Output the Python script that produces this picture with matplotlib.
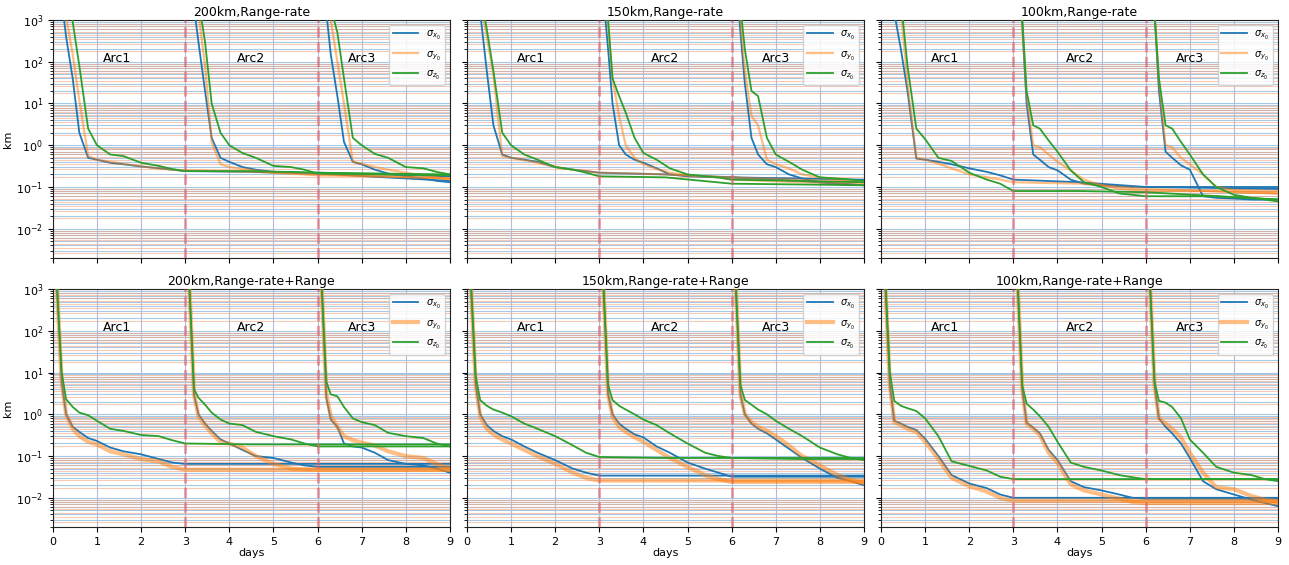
import numpy as np
import matplotlib
matplotlib.use('Agg')
import matplotlib.pyplot as plt

# relative time (days) inside each 3-day arc, and the days after the arc
rel_t = [0, 0.1, 0.2, 0.3, 0.45, 0.6, 0.8, 1.0, 1.3, 1.6, 2.0, 2.4, 2.7, 3.0]
tail_days = [[4.5, 6.0, 9.0], [7.5, 9.0], []]
arc_start = [0, 3, 6]

titles = ['200km,Range-rate', '150km,Range-rate', '100km,Range-rate',
          '200km,Range-rate+Range', '150km,Range-rate+Range', '100km,Range-rate+Range']
arc_names = ['Arc1', 'Arc2', 'Arc3']
arc_text_x = [1.45, 4.5, 7.0]
labels = [r'$\sigma_{x_0}$', r'$\sigma_{y_0}$', r'$\sigma_{z_0}$']

# ---- 200km, range-rate (km) ----
rr200_x = [[1e6, 1e5, 3e3, 400, 40, 2.0, 0.5, 0.45, 0.38, 0.35, 0.31, 0.28, 0.26, 0.24, 0.23, 0.21, 0.14],
           [1e6, 1e5, 2e3, 300, 20, 1.5, 0.5, 0.4, 0.3, 0.26, 0.23, 0.23, 0.22, 0.22, 0.2, 0.18],
           [1e6, 1e5, 1.5e3, 150, 15, 1.2, 0.4, 0.35, 0.26, 0.21, 0.18, 0.16, 0.14, 0.13]]
rr200_y = [[1e6, 1e5, 1e4, 1.2e3, 150, 12, 0.55, 0.45, 0.4, 0.36, 0.31, 0.28, 0.26, 0.25, 0.23, 0.2, 0.16],
           [1e6, 1e5, 1e4, 1.5e3, 80, 1.2, 0.35, 0.3, 0.27, 0.25, 0.22, 0.21, 0.2, 0.19, 0.18, 0.16],
           [1e6, 1e5, 1e4, 1e3, 100, 10, 0.4, 0.36, 0.3, 0.26, 0.22, 0.19, 0.17, 0.15]]
rr200_z = [[1e6, 1e5, 1e4, 5e3, 900, 80, 2.5, 1.0, 0.6, 0.55, 0.38, 0.32, 0.27, 0.24, 0.24, 0.22, 0.2],
           [1e6, 1e5, 1e4, 3e3, 300, 10, 2.0, 1.0, 0.65, 0.5, 0.32, 0.3, 0.26, 0.21, 0.2, 0.19],
           [1e6, 1e5, 1e4, 2e3, 500, 40, 1.5, 1.0, 0.62, 0.5, 0.3, 0.28, 0.23, 0.2]]

# ---- 150km, range-rate ----
rr150_x = [[1e6, 1e5, 1e4, 1.5e3, 60, 3, 0.6, 0.5, 0.45, 0.4, 0.3, 0.26, 0.24, 0.22, 0.2, 0.17, 0.15],
           [1e5, 3e3, 200, 10, 1.0, 0.6, 0.45, 0.38, 0.28, 0.2, 0.18, 0.175, 0.17, 0.17, 0.14, 0.11],
           [1e5, 1e4, 500, 30, 1.5, 0.6, 0.35, 0.3, 0.2, 0.16, 0.13, 0.12, 0.115, 0.11]]
rr150_y = [[1e6, 1e5, 1e4, 3e3, 400, 50, 0.55, 0.5, 0.44, 0.38, 0.3, 0.26, 0.24, 0.22, 0.2, 0.17, 0.13],
           [1e5, 1e4, 800, 40, 5, 1.0, 0.5, 0.35, 0.27, 0.22, 0.19, 0.18, 0.17, 0.15, 0.13, 0.12],
           [1e5, 1e4, 1e3, 60, 5, 3, 0.45, 0.35, 0.28, 0.2, 0.17, 0.15, 0.14, 0.13]]
rr150_z = [[1e6, 1e5, 1e4, 5e3, 600, 60, 2.0, 1.0, 0.6, 0.45, 0.3, 0.26, 0.22, 0.18, 0.17, 0.12, 0.11],
           [1e5, 1e4, 1e3, 40, 15, 6, 1.5, 0.65, 0.45, 0.28, 0.2, 0.18, 0.17, 0.15, 0.14, 0.13],
           [1e5, 1e4, 2e3, 200, 20, 15, 1.5, 0.6, 0.4, 0.26, 0.17, 0.16, 0.15, 0.14]]

# ---- 100km, range-rate ----
rr100_x = [[1e6, 1e5, 1e4, 1.5e3, 200, 20, 0.48, 0.45, 0.4, 0.35, 0.28, 0.23, 0.19, 0.15, 0.13, 0.1, 0.09],
           [1e5, 1e4, 800, 10, 0.6, 0.45, 0.3, 0.25, 0.15, 0.12, 0.11, 0.105, 0.1, 0.1, 0.1, 0.1],
           [1e5, 1e4, 1.5e3, 20, 0.7, 0.5, 0.33, 0.26, 0.06, 0.055, 0.053, 0.05, 0.05, 0.05]]
rr100_y = [[1e6, 1e5, 1e4, 5e3, 2e3, 30, 0.5, 0.45, 0.36, 0.28, 0.2, 0.17, 0.15, 0.13, 0.12, 0.09, 0.07],
           [1e5, 1e4, 800, 15, 1.0, 0.9, 0.6, 0.4, 0.25, 0.15, 0.11, 0.09, 0.085, 0.08, 0.08, 0.07],
           [1e5, 1e4, 1.5e3, 30, 1.0, 0.9, 0.5, 0.35, 0.2, 0.1, 0.085, 0.082, 0.08, 0.08]]
rr100_z = [[1e6, 1e5, 1e4, 8e3, 3e3, 80, 2.5, 1.4, 0.5, 0.42, 0.22, 0.15, 0.12, 0.08, 0.08, 0.075, 0.05],
           [1e5, 1e4, 1.2e3, 20, 3, 2.5, 1.3, 0.7, 0.25, 0.13, 0.1, 0.07, 0.065, 0.06, 0.06, 0.05],
           [1e5, 1e4, 1.5e3, 40, 3, 2.5, 1.2, 0.6, 0.2, 0.1, 0.065, 0.055, 0.05, 0.045]]

# ---- 200km, range-rate + range ----
rrr200_x = [[1e5, 800, 6, 1.0, 0.5, 0.38, 0.27, 0.23, 0.16, 0.13, 0.11, 0.085, 0.07, 0.065, 0.065, 0.065, 0.065],
            [1e5, 900, 3, 1.0, 0.6, 0.4, 0.25, 0.2, 0.14, 0.1, 0.09, 0.07, 0.06, 0.055, 0.055, 0.055],
            [1e5, 900, 2.5, 0.75, 0.5, 0.2, 0.17, 0.16, 0.12, 0.08, 0.065, 0.06, 0.05, 0.04]]
rrr200_y = [[1e5, 800, 6, 1.0, 0.45, 0.3, 0.22, 0.19, 0.13, 0.11, 0.085, 0.075, 0.055, 0.047, 0.047, 0.047, 0.047],
            [1e5, 900, 3, 0.9, 0.55, 0.35, 0.22, 0.2, 0.16, 0.1, 0.065, 0.05, 0.048, 0.047, 0.047, 0.047],
            [1e5, 900, 3, 0.9, 0.5, 0.3, 0.24, 0.21, 0.18, 0.13, 0.1, 0.09, 0.065, 0.05]]
rrr200_z = [[1e5, 900, 10, 2.3, 1.5, 1.1, 0.95, 0.7, 0.45, 0.4, 0.32, 0.3, 0.24, 0.2, 0.19, 0.19, 0.19],
            [1e5, 900, 4, 2.5, 1.7, 1.1, 0.75, 0.6, 0.55, 0.38, 0.3, 0.25, 0.2, 0.17, 0.17, 0.17],
            [1e5, 900, 6, 3.0, 2.7, 1.5, 0.8, 0.65, 0.55, 0.36, 0.3, 0.27, 0.2, 0.17]]

# ---- 150km, range-rate + range ----
rrr150_x = [[1e5, 800, 5, 1.0, 0.55, 0.4, 0.3, 0.25, 0.17, 0.12, 0.08, 0.05, 0.04, 0.034, 0.034, 0.034, 0.034],
            [1e5, 900, 3, 1.0, 0.6, 0.45, 0.33, 0.28, 0.17, 0.12, 0.07, 0.05, 0.04, 0.032, 0.032, 0.032],
            [1e5, 900, 3, 1.0, 0.6, 0.45, 0.35, 0.25, 0.15, 0.09, 0.05, 0.03, 0.025, 0.02]]
rrr150_y = [[1e5, 800, 5, 0.9, 0.45, 0.33, 0.25, 0.2, 0.14, 0.1, 0.065, 0.04, 0.03, 0.026, 0.026, 0.026, 0.026],
            [1e5, 900, 3, 0.9, 0.5, 0.38, 0.28, 0.22, 0.14, 0.09, 0.055, 0.035, 0.028, 0.024, 0.024, 0.024],
            [1e5, 900, 3, 1.0, 0.65, 0.5, 0.4, 0.3, 0.18, 0.1, 0.06, 0.035, 0.027, 0.022]]
rrr150_z = [[1e5, 900, 8, 2.2, 1.6, 1.3, 1.1, 0.9, 0.6, 0.45, 0.3, 0.18, 0.12, 0.095, 0.09, 0.09, 0.09],
            [1e5, 900, 5, 2.2, 1.6, 1.3, 1.0, 0.75, 0.55, 0.35, 0.2, 0.12, 0.1, 0.09, 0.085, 0.085],
            [1e5, 900, 5, 2.2, 1.7, 1.3, 1.0, 0.7, 0.45, 0.3, 0.16, 0.11, 0.09, 0.08]]

# ---- 100km, range-rate + range ----
rrr100_x = [[1e5, 1.2e3, 5, 0.7, 0.6, 0.5, 0.42, 0.26, 0.1, 0.035, 0.022, 0.017, 0.012, 0.01, 0.01, 0.01, 0.01],
            [1e5, 1.2e3, 4, 0.63, 0.48, 0.35, 0.14, 0.08, 0.025, 0.018, 0.015, 0.012, 0.01, 0.0095, 0.0095, 0.0095],
            [1e5, 1.2e3, 5, 0.8, 0.5, 0.35, 0.2, 0.09, 0.025, 0.016, 0.012, 0.009, 0.0075, 0.0063]]
rrr100_y = [[1e5, 1.2e3, 5, 0.65, 0.55, 0.45, 0.38, 0.22, 0.085, 0.03, 0.019, 0.014, 0.01, 0.0085, 0.0085, 0.0085, 0.0085],
            [1e5, 1.2e3, 4, 0.6, 0.45, 0.32, 0.12, 0.07, 0.021, 0.015, 0.012, 0.0095, 0.008, 0.0075, 0.0075, 0.0075],
            [1e5, 1.2e3, 5, 0.8, 0.6, 0.45, 0.28, 0.12, 0.04, 0.018, 0.016, 0.011, 0.009, 0.008]]
rrr100_z = [[1e5, 1.5e3, 10, 2.1, 1.6, 1.4, 1.2, 0.8, 0.3, 0.075, 0.058, 0.045, 0.032, 0.028, 0.028, 0.028, 0.028],
            [1e5, 1.2e3, 5, 1.8, 1.3, 0.9, 0.5, 0.22, 0.07, 0.055, 0.045, 0.035, 0.031, 0.028, 0.028, 0.028],
            [1e5, 1.2e3, 6, 2.1, 1.9, 1.5, 0.8, 0.25, 0.12, 0.055, 0.04, 0.035, 0.028, 0.025]]

panels = [(rr200_x, rr200_y, rr200_z), (rr150_x, rr150_y, rr150_z), (rr100_x, rr100_y, rr100_z),
          (rrr200_x, rrr200_y, rrr200_z), (rrr150_x, rrr150_y, rrr150_z), (rrr100_x, rrr100_y, rrr100_z)]

colors = ['#1f77b4', '#ff7f0e', '#2ca02c']

fig = plt.figure(figsize=(12.89, 5.65), dpi=100)
axes = fig.subplots(2, 3, sharex=True, sharey=True)
fig.subplots_adjust(left=0.041, right=0.9915, top=0.9646, bottom=0.0673, wspace=0.043, hspace=0.131)

# background horizontal grid lines (blue + orange pairs)
blue_lines = [m * 10.0 ** d for d in range(-3, 3) for m in range(1, 10)]
orange_lines = [0.88 * v for v in blue_lines]

for i, ax in enumerate(axes.flat):
    ax.set_yscale('log')
    for v in blue_lines:
        ax.axhline(v, color='#7fb3dc', lw=0.8, alpha=0.7, zorder=0)
    for v in orange_lines:
        ax.axhline(v, color='#f4a582', lw=0.8, alpha=0.6, zorder=0)
    ax.grid(True, axis='x', color='#b5bccf', lw=0.8, zorder=0)

    comps = panels[i]
    bottom_row = i >= 3
    for c in range(3):
        for k in range(3):
            t = [arc_start[k] + r for r in rel_t] + tail_days[k]
            vals = comps[c][k]
            kw = dict(color=colors[c], lw=1.3, zorder=3)
            if c == 1:
                kw.update(lw=3.0 if bottom_row else 1.6, alpha=0.5)
            ax.plot(t, vals, label=labels[c] if k == 0 else None, **kw)

    for xv in [3, 6]:
        ax.axvline(xv, color='#e0606e', ls='--', lw=2, alpha=0.6, zorder=4)
    for k in range(3):
        ax.text(arc_text_x[k], 120, arc_names[k], ha='center', va='center', fontsize=9, zorder=5)

    ax.set_xlim(0, 9)
    ax.set_ylim(2e-3, 1e3)
    ax.set_xticks(range(10))
    ax.tick_params(labelsize=8)
    ax.set_title(titles[i], fontsize=9, pad=3)
    ax.legend(loc='upper right', fontsize=7, labelspacing=0.7, handlelength=2.6,
              framealpha=0.85, borderpad=0.4)
    for s in ax.spines.values():
        s.set_color('#222222')
    if i % 3 == 0:
        ax.set_ylabel('km', fontsize=8, labelpad=2)
    if bottom_row:
        ax.set_xlabel('days', fontsize=8, labelpad=1)

fig.savefig('out.png', dpi=100)
